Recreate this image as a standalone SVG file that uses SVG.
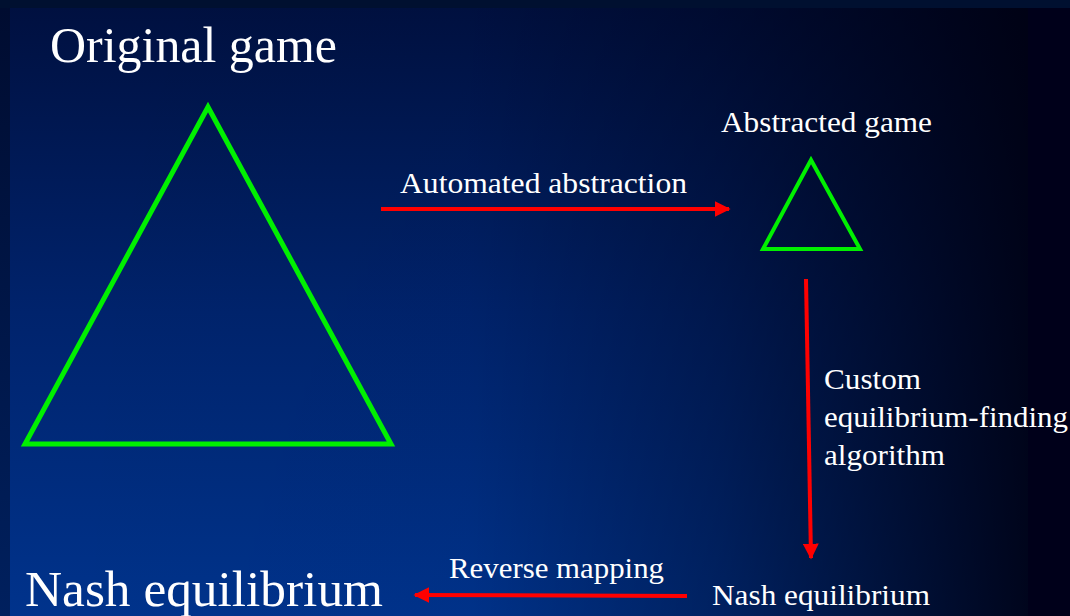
<svg xmlns="http://www.w3.org/2000/svg" width="1070" height="616" viewBox="0 0 1070 616">
  <defs>
    <linearGradient id="bgV" x1="0" y1="0" x2="0" y2="1">
      <stop offset="0" stop-color="#001040"/>
      <stop offset="0.5" stop-color="#00236c"/>
      <stop offset="1" stop-color="#00338c"/>
    </linearGradient>
    <linearGradient id="bgH" x1="0" y1="0" x2="1" y2="0">
      <stop offset="0" stop-color="#000010" stop-opacity="0"/>
      <stop offset="0.45" stop-color="#000010" stop-opacity="0.02"/>
      <stop offset="0.7" stop-color="#000010" stop-opacity="0.35"/>
      <stop offset="1" stop-color="#000010" stop-opacity="0.9"/>
    </linearGradient>
    <linearGradient id="leftV" x1="0" y1="0" x2="0" y2="1">
      <stop offset="0" stop-color="#000c30"/>
      <stop offset="1" stop-color="#00205e"/>
    </linearGradient>
    <marker id="arr" viewBox="0 0 10 10" refX="9" refY="5" markerWidth="4" markerHeight="4" markerUnits="strokeWidth" orient="auto">
      <path d="M0,0 L10,5 L0,10 Z" fill="#ff0000"/>
    </marker>
  </defs>
  <style>
    .tri { fill: none; stroke: #00f000; stroke-linejoin: miter; }
    .conn { stroke: #ff0000; stroke-width: 4; fill: none; marker-end: url(#arr); }
    .big { font-family: "Liberation Serif", "Times New Roman", serif; fill: #ffffff; font-size: 50px; }
    .lbl { font-family: "Liberation Serif", "Times New Roman", serif; fill: #ffffff; font-size: 30px; }
  </style>

  <!-- background -->
  <rect x="0" y="0" width="1070" height="616" fill="#00081e"/>
  <rect x="10" y="8" width="1018" height="608" fill="url(#bgV)"/>
  <rect x="10" y="8" width="1018" height="608" fill="url(#bgH)"/>
  <rect x="0" y="8" width="10" height="608" fill="url(#leftV)"/>
  <rect x="1028" y="8" width="42" height="608" fill="#00001a"/>
  <rect x="0" y="0" width="1070" height="8" fill="#001030"/>

  <g id="original-game">
    <polygon class="tri" stroke-width="5" points="208,107 25,444 391,444"/>
    <text class="big" x="50" y="62" textLength="287" lengthAdjust="spacingAndGlyphs">Original game</text>
  </g>

  <g id="abstracted-game">
    <polygon class="tri" stroke-width="4" points="811,160 763,249 860,249"/>
    <text class="lbl" x="721" y="132" textLength="211" lengthAdjust="spacingAndGlyphs">Abstracted game</text>
  </g>

  <g id="nash-small">
    <text class="lbl" x="712" y="605" textLength="218" lengthAdjust="spacingAndGlyphs">Nash equilibrium</text>
  </g>

  <g id="nash-large">
    <text class="big" x="25" y="606" font-size="52" textLength="358" lengthAdjust="spacingAndGlyphs">Nash equilibrium</text>
  </g>

  <g id="connectors">
    <line class="conn" x1="381" y1="209" x2="729" y2="209"/>
    <line class="conn" x1="806" y1="279" x2="811" y2="558"/>
    <line class="conn" x1="687" y1="596" x2="415" y2="595"/>
    <text class="lbl" x="400" y="193" textLength="287" lengthAdjust="spacingAndGlyphs">Automated abstraction</text>
    <text class="lbl" x="824" y="389" textLength="97" lengthAdjust="spacingAndGlyphs">Custom</text>
    <text class="lbl" x="824" y="427" textLength="244" lengthAdjust="spacingAndGlyphs">equilibrium-finding</text>
    <text class="lbl" x="824" y="465" textLength="121" lengthAdjust="spacingAndGlyphs">algorithm</text>
    <text class="lbl" x="449" y="578" textLength="215" lengthAdjust="spacingAndGlyphs">Reverse mapping</text>
  </g>
</svg>
